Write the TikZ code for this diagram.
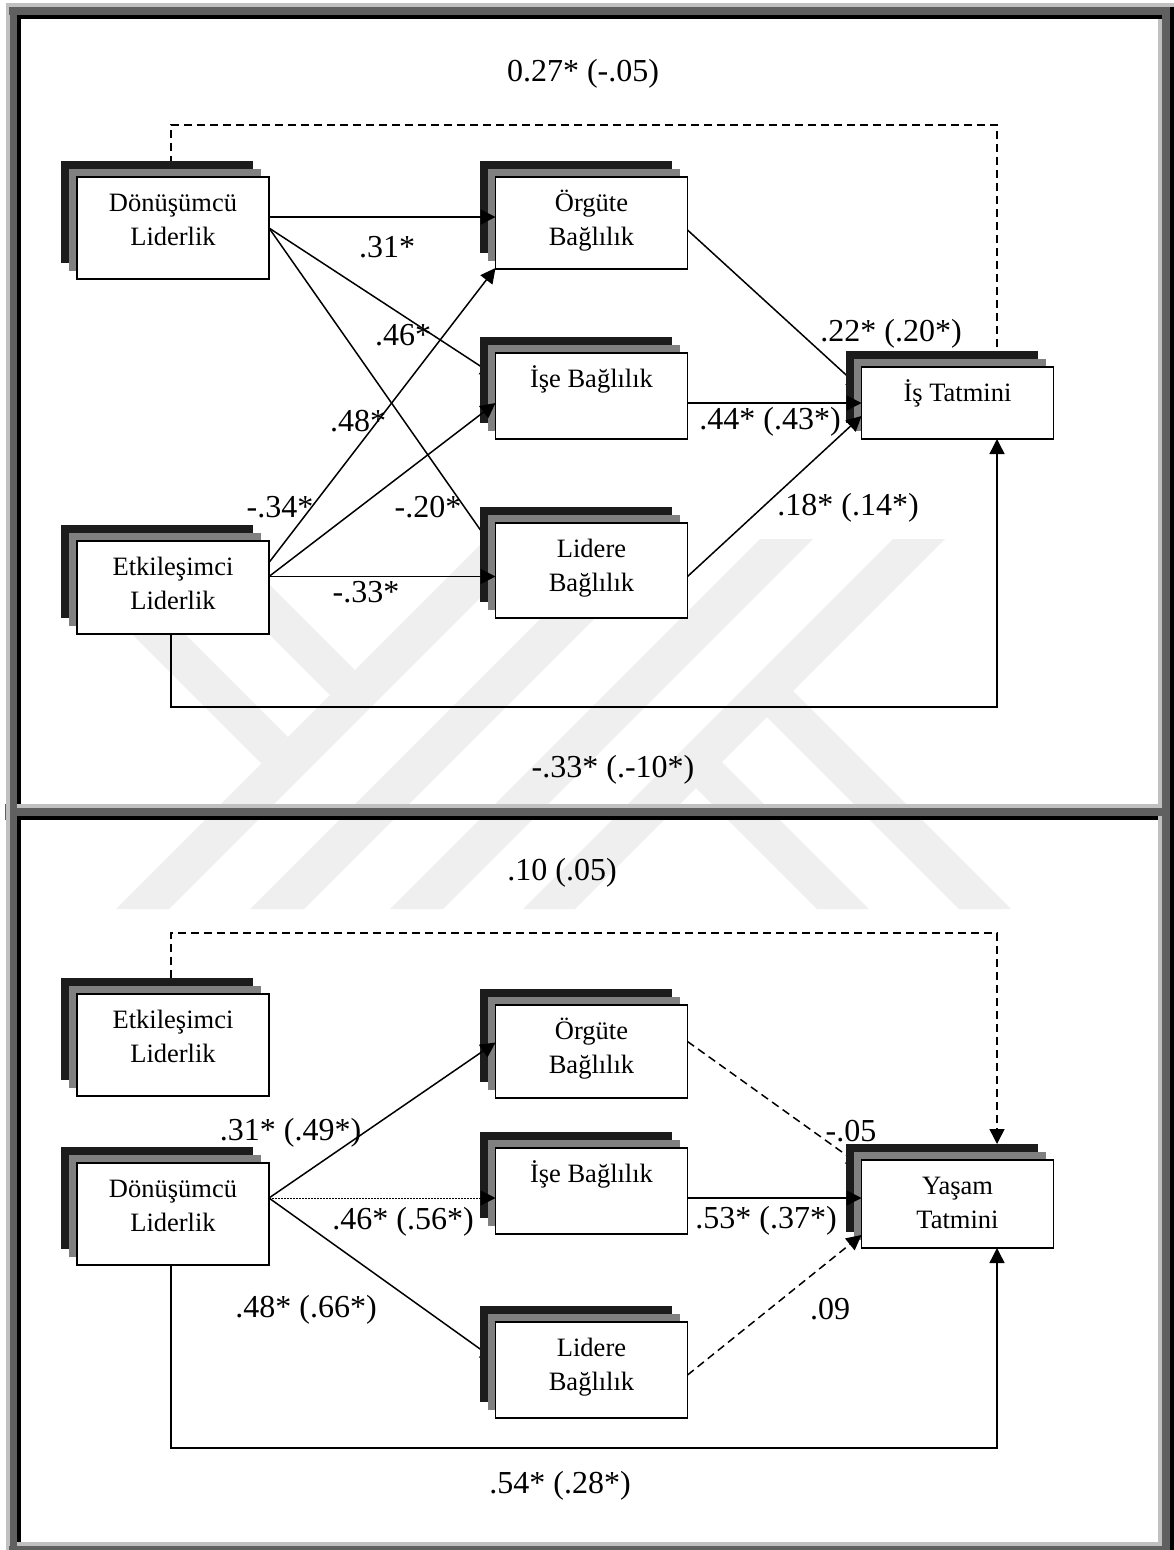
\documentclass[tikz,border=0pt]{standalone}
\usepackage{fontspec}
\setmainfont{Liberation Serif}
\usetikzlibrary{arrows.meta,backgrounds,shadows}
\definecolor{ink}{RGB}{0,0,0}
\definecolor{framelight}{RGB}{192,192,192}
\definecolor{framedark}{RGB}{96,96,96}
\definecolor{markgray}{RGB}{239,239,239}
\definecolor{shadeblack}{RGB}{28,28,28}
\definecolor{shadegray}{RGB}{128,128,128}
\newcommand{\boxtext}[2]{\parbox[c][#1][t]{192pt}{\centering\fontsize{26.5}{34}\selectfont\rule{0pt}{34pt}#2}}
\tikzset{
  conbox/.style={draw=ink,fill=white,line width=1.5pt,minimum width=192pt,inner sep=0pt,outer sep=0pt,
    copy shadow={shadow xshift=-16pt,shadow yshift=16pt,fill=shadeblack,draw=none},
    copy shadow={shadow xshift=-8pt,shadow yshift=8pt,fill=shadegray,draw=none}},
  conn/.style={draw=ink,line width=1.5pt},
  connarrow/.style={conn,-{Triangle[length=15pt,width=15pt]}},
  dashedarrow/.style={connarrow,dash pattern=on 8pt off 5pt},
  dottedarrow/.style={connarrow,line width=1pt,dash pattern=on 1.5pt off 1.5pt},
  coeff/.style={inner sep=0pt,yshift=-2pt,font=\fontsize{32}{36}\selectfont}
}
\begin{document}
\begin{tikzpicture}[x=1pt,y=-1pt]
  \useasboundingbox (0,0) rectangle (1174,1550);
  % first panel
  \node[conbox] (dona) at (173,228) {\boxtext{102pt}{Dönüşümcü\\Liderlik}};
  \node[conbox] (etka) at (173,587.5) {\boxtext{93pt}{Etkileşimci\\Liderlik}};
  \node[conbox] (orga) at (591.5,223) {\boxtext{92pt}{Örgüte\\Bağlılık}};
  \node[conbox] (isea) at (591.5,396) {\boxtext{86pt}{İşe Bağlılık}};
  \node[conbox] (lida) at (591.5,570.5) {\boxtext{95pt}{Lidere\\Bağlılık}};
  \node[conbox] (tata) at (957.5,403) {\boxtext{72pt}{İş Tatmini}};
  % second panel
  \node[conbox] (etkb) at (173,1045) {\boxtext{102pt}{Etkileşimci\\Liderlik}};
  \node[conbox] (donb) at (173,1214) {\boxtext{102pt}{Dönüşümcü\\Liderlik}};
  \node[conbox] (orgb) at (591.5,1051.5) {\boxtext{93pt}{Örgüte\\Bağlılık}};
  \node[conbox] (iseb) at (591.5,1191) {\boxtext{86pt}{İşe Bağlılık}};
  \node[conbox] (lidb) at (591.5,1370) {\boxtext{96pt}{Lidere\\Bağlılık}};
  \node[conbox] (yasb) at (957.5,1204) {\boxtext{88pt}{Yaşam\\Tatmini}};

  \begin{scope}[on background layer]
    % watermark bands
    \foreach \sa/\sb/\ytop in {1025/1078/540,1159/1213/540,1299/1352/539,1432/1484/539}
      \fill[markgray] ({\sa-\ytop},\ytop) -- ({\sb-\ytop},\ytop) -- ({\sb-909},909) -- ({\sa-909},909) -- cycle;
    \foreach \da/\db/\sa/\ytop in {-502/-449/1025/600,-365/-315/1025/560}
      \fill[markgray] ({\ytop+\da},\ytop) -- ({\ytop+\db},\ytop) -- ({(\sa+\db)/2},{(\sa-\db)/2}) -- ({(\sa+\da)/2},{(\sa-\da)/2}) -- cycle;
    \foreach \da/\db in {50/102,-92/-40}
      \fill[markgray] ({(1482+\da)/2},{(1482-\da)/2}) -- ({(1482+\db)/2},{(1482-\db)/2}) -- ({909+\db},909) -- ({909+\da},909) -- cycle;
    % frame
    \fill[framelight] (6,3) rectangle (1174,7);
    \fill[framelight] (6,3) rectangle (10,1550);
    \fill[framedark] (9,7) rectangle (1170,15);
    \fill[framedark] (10,7) rectangle (17,1550);
    \fill[framedark] (1162,7) rectangle (1170,1550);
    \fill[framelight] (1158,19) rectangle (1162,1546);
    \fill[framelight] (17,1542) rectangle (1162,1546);
    \fill[framedark] (9,1546) rectangle (1170,1550);
    \fill[ink] (1170,7) rectangle (1174,1550);
    \fill[ink] (17,15) rectangle (1162,19);
    \fill[ink] (17,15) rectangle (21,1542);
    \fill[framelight] (17,804) rectangle (1162,808);
    \fill[framedark] (10,808) rectangle (1162,816);
    \fill[ink] (17,816) rectangle (1158,820);
    \fill[framedark] (5,804) rectangle (6,820);
    % connectors that run behind the boxes
    \draw[dashedarrow] ([xshift=-2pt]dona.north) -- ++(0,-52) -| ([xshift=39.5pt]tata.north);
    \draw[connarrow] (dona.east) -- ([yshift=20pt]isea.west);
    \draw[connarrow] (dona.east) -- ([yshift=19pt]lida.west);
    \draw[connarrow] ([yshift=-7pt]orga.east) -- ([yshift=14pt]tata.west);
    \draw[connarrow] ([yshift=16pt]donb.east) -- ([yshift=10pt]lidb.west);
    \draw[dashedarrow] ([yshift=10pt]orgb.east) -- ([yshift=38pt]yasb.west);
  \end{scope}

  % connectors over the boxes
  \draw[connarrow] ([yshift=11pt]dona.east) -- ([yshift=6pt]orga.west);
  \draw[connarrow] ([yshift=25pt]etka.east) -- ([yshift=-45pt]orga.west);
  \draw[connarrow] ([yshift=11pt]etka.east) -- ([yshift=-7pt]isea.west);
  \draw[connarrow] ([yshift=11pt]etka.east) -- ([yshift=-6pt]lida.west);
  \draw[connarrow] ([yshift=-7pt]isea.east) -- (tata.west);
  \draw[connarrow] ([yshift=-6pt]lida.east) -- ([yshift=-13pt]tata.west);
  \draw[connarrow] ([xshift=-2pt]etka.south) -- ++(0,73) -| ([xshift=39.5pt]tata.south);
  \draw[dashedarrow] ([xshift=-2pt,yshift=16pt]etkb.north) -- ++(0,-45) -| ([xshift=39.5pt,yshift=16pt]yasb.north);
  \draw[connarrow] ([yshift=16pt]donb.east) -- ([yshift=9pt]orgb.west);
  \draw[dottedarrow] ([yshift=16pt]donb.east) -- ([yshift=-7pt]iseb.west);
  \draw[connarrow] ([yshift=-7pt]iseb.east) -- ([yshift=6pt]yasb.west);
  \draw[dashedarrow] ([yshift=-5pt]lidb.east) -- ([yshift=-31pt]yasb.west);
  \draw[connarrow] ([xshift=-2pt]donb.south) -- ++(0,183) -| ([xshift=39.5pt]yasb.south);

  % coefficients
  \node[coeff] (laba) at (583,72) {0.27* (-.05)};
  \node[coeff] (labb) at (387,245) {.31*};
  \node[coeff] (labc) at (403,333) {.46*};
  \node[coeff] (labd) at (358,419) {.48*};
  \node[coeff] (labe) at (280,505) {-.34*};
  \node[coeff] (labf) at (428,505) {-.20*};
  \node[coeff] (labg) at (366,590) {-.33*};
  \node[coeff] (labh) at (770,420) {.44* (.43*)};
  \node[coeff] (labi) at (891,332) {.22* (.20*)};
  \node[coeff] (labj) at (848,506) {.18* (.14*)};
  \node[coeff] (labk) at (613,768) {-.33* (.-10*)};
  \node[coeff] (labl) at (562,871) {.10 (.05)};
  \node[coeff] (labm) at (290.5,1131) {.31* (.49*)};
  \node[coeff] (labn) at (403,1220) {.46* (.56*)};
  \node[coeff] (labo) at (306,1308) {.48* (.66*)};
  \node[coeff] (labp) at (851,1129) {-.05};
  \node[coeff] (labq) at (766,1219) {.53* (.37*)};
  \node[coeff] (labr) at (830,1307) {.09};
  \node[coeff] (labs) at (560,1484) {.54* (.28*)};
\end{tikzpicture}
\end{document}
